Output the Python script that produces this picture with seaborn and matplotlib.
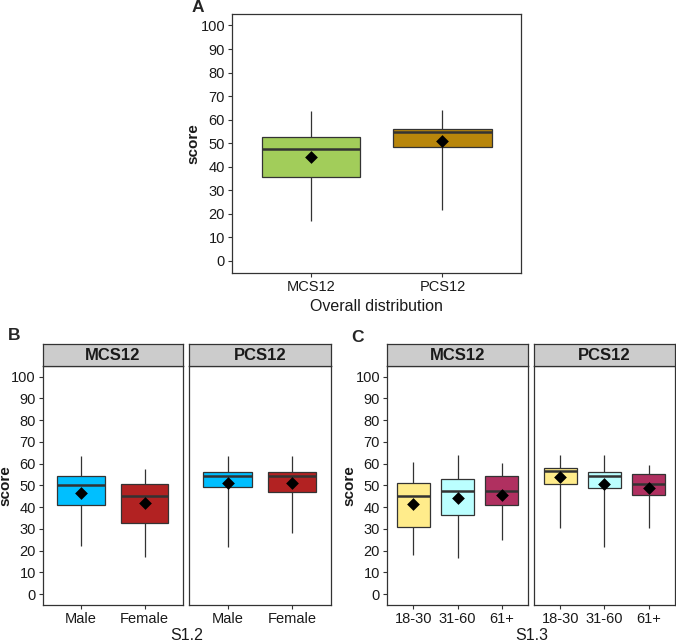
import numpy as np
import pandas as pd
import seaborn as sns
import matplotlib.pyplot as plt

sns.set_theme(style='ticks')
plt.rcParams['font.family'] = ['Liberation Sans', 'DejaVu Sans']

# five-number summaries per box: [min, q1, median, q3, max]
a_groups = ['MCS12', 'PCS12']
a_box = [[16.9, 35.7, 47.7, 52.7, 63.6], [21.5, 48.4, 54.7, 56.2, 64.0]]
a_mean = [44.3, 51.1]
a_colors = ['#A2CD5A', '#B8860B']

b_groups = ['Male', 'Female']
b_mcs_box = [[22.3, 40.9, 50.2, 54.5, 63.7], [17.1, 32.9, 45.0, 50.7, 57.7]]
b_mcs_mean = [46.7, 41.9]
b_pcs_box = [[21.7, 49.4, 54.3, 56.0, 63.7], [28.3, 47.1, 54.5, 56.3, 63.7]]
b_pcs_mean = [51.1, 51.1]
b_colors = ['#00BFFF', '#B22222']

c_groups = ['18-30', '31-60', '61+']
c_mcs_box = [[18.0, 30.7, 45.1, 51.0, 60.9], [16.8, 36.2, 47.6, 52.7, 63.8],
             [25.1, 40.8, 47.5, 54.2, 60.2]]
c_mcs_mean = [41.4, 44.2, 45.5]
c_pcs_box = [[30.5, 50.8, 56.4, 57.8, 63.8], [21.6, 48.7, 54.5, 56.2, 63.8],
             [30.5, 45.6, 50.8, 55.2, 59.5]]
c_pcs_mean = [53.9, 50.5, 48.7]
c_colors = ['#FFEC8B', '#BBFFFF', '#B03060']

W, H = 676, 642
EDGE = '#333333'


def px_axes(fig, x0, y0, x1, y1):
    # pixel box (top-left origin) -> figure axes
    return fig.add_axes([x0 / W, 1 - y1 / H, (x1 - x0) / W, (y1 - y0) / H])


def draw_box(ax, groups, box, mean, colors, show_y=True):
    df = pd.DataFrame({'group': np.repeat(groups, 5), 'score': np.concatenate(box)})
    sns.boxplot(data=df, x='group', y='score', hue='group', order=groups, hue_order=groups,
                palette=dict(zip(groups, colors)), whis=(0, 100), width=0.75, saturation=1,
                linecolor=EDGE, linewidth=0.9, showcaps=False,
                medianprops={'linewidth': 1.8}, legend=False, ax=ax)
    sns.stripplot(x=groups, y=mean, order=groups, jitter=False, marker='D', color='black',
                  size=6.5, ax=ax, zorder=5)
    ax.set_xlim(-0.6, len(groups) - 0.4)
    ax.set_ylim(-5, 105)
    ax.set_yticks(range(0, 101, 10))
    ax.set_xlabel('')
    ax.tick_params(length=3, width=0.8, color=EDGE, labelsize=10.5, labelcolor='#1a1a1a', pad=2)
    for s in ax.spines.values():
        s.set_color(EDGE)
        s.set_linewidth(0.9)
    if show_y:
        ax.set_ylabel('score', fontsize=11, fontweight='bold', color='#1a1a1a')
    else:
        ax.set_ylabel('')
        ax.tick_params(left=False, labelleft=False)


def strip(fig, x0, x1, text):
    sax = px_axes(fig, x0, 344, x1, 365.7)
    sax.set_facecolor('#CCCCCC')
    sax.set_xticks([])
    sax.set_yticks([])
    for s in sax.spines.values():
        s.set_color(EDGE)
        s.set_linewidth(0.9)
    sax.text(0.5, 0.47, text, ha='center', va='center', fontsize=12, fontweight='bold',
             color='#1a1a1a', transform=sax.transAxes)


fig = plt.figure(figsize=(6.76, 6.42), dpi=100)

# A
ax = px_axes(fig, 232, 13.7, 521.3, 272.7)
draw_box(ax, a_groups, a_box, a_mean, a_colors)
ax.yaxis.set_label_coords(-0.11, 0.5)
ax.set_xlabel('Overall distribution', fontsize=11.5, color='#1a1a1a')
ax.xaxis.set_label_coords(0.5, -0.1)
fig.text(198 / W, 1 - 7.5 / H, 'A', ha='center', va='center', fontsize=12.5, fontweight='bold')

# B
ax = px_axes(fig, 42.7, 365.7, 182.7, 605)
draw_box(ax, b_groups, b_mcs_box, b_mcs_mean, b_colors)
ax.yaxis.set_label_coords(-0.215, 0.5)
ax = px_axes(fig, 188.7, 365.7, 331, 605)
draw_box(ax, b_groups, b_pcs_box, b_pcs_mean, b_colors, show_y=False)
strip(fig, 42.7, 182.7, 'MCS12')
strip(fig, 188.7, 331, 'PCS12')
fig.text(187 / W, 1 - 635 / H, 'S1.2', ha='center', va='center', fontsize=11.5, color='#1a1a1a')
fig.text(14 / W, 1 - 336 / H, 'B', ha='center', va='center', fontsize=12.5, fontweight='bold')

# C
ax = px_axes(fig, 387, 365.7, 528.3, 605)
draw_box(ax, c_groups, c_mcs_box, c_mcs_mean, c_colors)
ax.yaxis.set_label_coords(-0.215, 0.5)
ax = px_axes(fig, 533.7, 365.7, 675, 605)
draw_box(ax, c_groups, c_pcs_box, c_pcs_mean, c_colors, show_y=False)
strip(fig, 387, 528.3, 'MCS12')
strip(fig, 533.7, 675, 'PCS12')
fig.text(531.5 / W, 1 - 635 / H, 'S1.3', ha='center', va='center', fontsize=11.5, color='#1a1a1a')
fig.text(358 / W, 1 - 337 / H, 'C', ha='center', va='center', fontsize=12.5, fontweight='bold')

fig.savefig('out.png', dpi=100)
